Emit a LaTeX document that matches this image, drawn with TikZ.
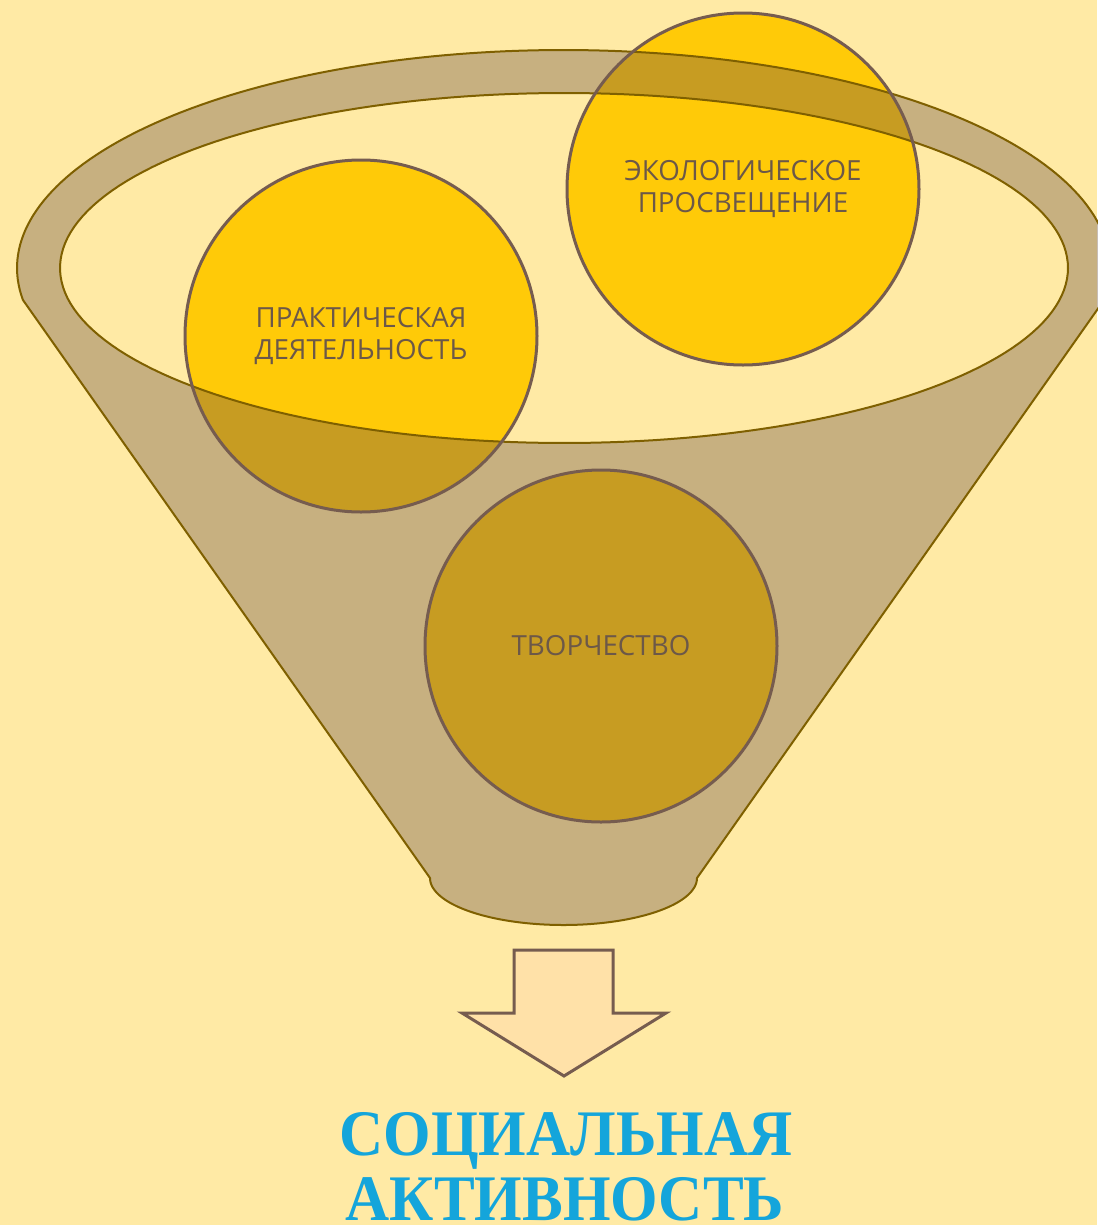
\documentclass[tikz,border=0pt]{standalone}
\usepackage{fontspec}
\setmainfont{Open Sans}
\newfontfamily\titlefont[FakeStretch=0.94]{Liberation Serif}
\definecolor{bg}{RGB}{255,234,165}
\definecolor{bubyellow}{RGB}{255,202,8}
\definecolor{funnelbrown}{RGB}{115,89,73}
\definecolor{funnelline}{RGB}{127,96,0}
\definecolor{bubline}{RGB}{118,92,79}
\definecolor{bubtext}{RGB}{108,88,72}
\definecolor{arrowfill}{RGB}{255,225,168}
\definecolor{titleblue}{RGB}{20,165,219}
\tikzset{
  bubfill/.style={fill=bubyellow},
  funnel/.style={fill=funnelbrown, fill opacity=0.4, draw=funnelline, line width=1.5pt, even odd rule, line join=round},
  bub/.style={circle, draw=bubline, line width=2.25pt, minimum size=264pt, inner sep=0pt, align=center, text=bubtext, font=\fontsize{20.8}{24.2}\selectfont},
  blockarrow/.style={fill=arrowfill, draw=bubline, line width=2.25pt, line join=miter},
  titlesty/.style={text=titleblue, font=\titlefont\bfseries\fontsize{48.75}{49.5}\selectfont, inner sep=0pt}
}
\begin{document}
\begin{tikzpicture}[x=0.75pt, y=-0.75pt]
\fill[bg] (0,0) rectangle (1097,1225);
\useasboundingbox (0,0) rectangle (1097,1225);
\coordinate (p1) at (361,336);
\coordinate (p2) at (743,189);
\coordinate (p3) at (601,646);
% circle fills (behind funnel)
\fill[bubfill] (p1) circle (132pt);
\fill[bubfill] (p2) circle (132pt);
\fill[bubfill] (p3) circle (132pt);
% funnel
\path[funnel] plot[domain=171.56:368.44, samples=150] ({563.5+546.5*cos(\x)},{268+218*sin(\x)})
  -- (697,878)
  -- plot[domain=0:180, samples=80] ({563.5+133.5*cos(\x)},{878+47*sin(\x)})
  -- cycle
  plot[domain=0:360, samples=200] ({564+504*cos(\x)},{268+175*sin(\x)}) -- cycle;
% circle nodes with borders and text
\node[bub] (c1) at (p1) {ПРАКТИЧЕСКАЯ\\ДЕЯТЕЛЬНОСТЬ};
\node[bub] (c2) at (p2) {ЭКОЛОГИЧЕСКОЕ\\ПРОСВЕЩЕНИЕ};
\node[bub] (c3) at (p3) {ТВОРЧЕСТВО};
% block arrow
\draw[blockarrow] (514,950) -- (613,950) -- (613,1013) -- (666,1013) -- (564,1076) -- (462,1013) -- (514,1013) -- cycle;
% title
\node[titlesty, anchor=base] (t1) at (566,1155) {СОЦИАЛЬНАЯ};
\node[titlesty, anchor=base] (t2) at (565,1220) {АКТИВНОСТЬ};
\end{tikzpicture}
\end{document}
